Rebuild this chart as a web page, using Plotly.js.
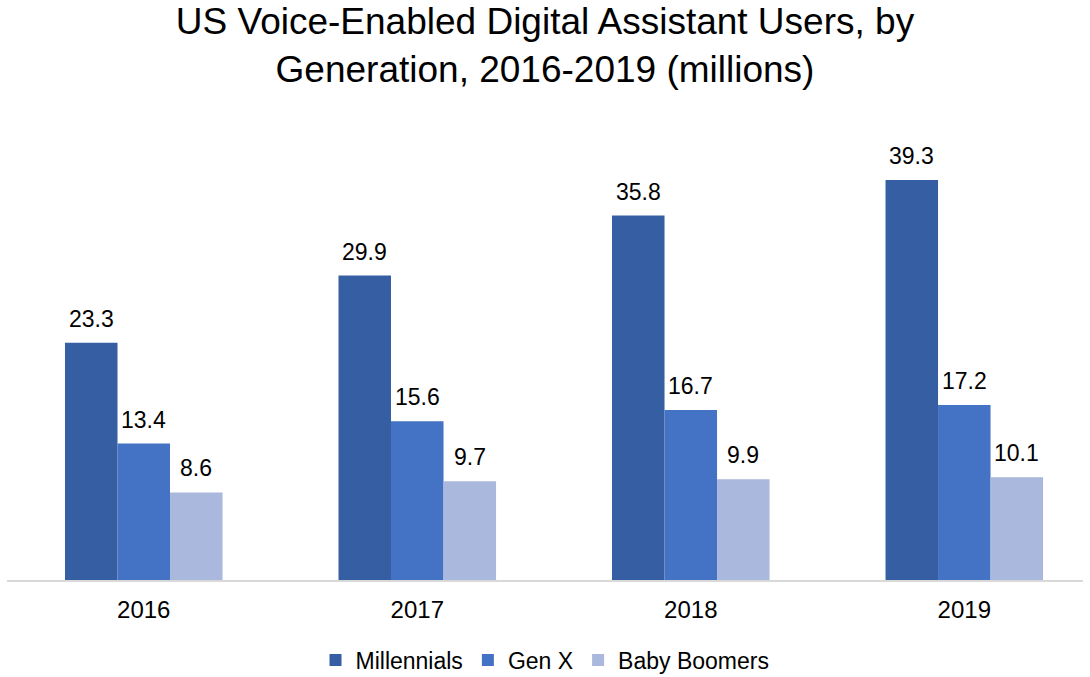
<!DOCTYPE html>
<html>
<head>
<meta charset="utf-8">
<script src="https://cdn.plot.ly/plotly-3.0.1.min.js"></script>
<style>html,body{margin:0;padding:0;background:#fff;}#chart{width:1090px;height:677px;}</style>
</head>
<body>
<div id="chart"></div>
<script>
const years = ["2016", "2017", "2018", "2019"];
const millennials = [23.3, 29.9, 35.8, 39.3];
const genX = [13.4, 15.6, 16.7, 17.2];
const babyBoomers = [8.6, 9.7, 9.9, 10.1];
const seriesNames = ["Millennials", "Gen X", "Baby Boomers"];
const colors = ["#355EA3", "#4472C4", "#A9B8DC"];

const font = "Liberation Sans, Arial, sans-serif";
const values = [millennials, genX, babyBoomers];
const traces = values.map((v, i) => ({
  type: "bar",
  name: seriesNames[i],
  x: years,
  y: v,
  marker: {color: colors[i], line: {width: 0}},
  hoverinfo: "none"
}));

// value labels at each bar top: x is the category index on the category axis,
// shifted to the bar's slot inside its group
const slotShift = [-52.5, 0, 52.5];
const annotations = [];
values.forEach((v, i) => {
  v.forEach((val, j) => {
    annotations.push({
      x: j, y: val, xref: "x", yref: "y",
      text: val.toFixed(1), showarrow: false,
      xanchor: "center", yanchor: "bottom",
      xshift: slotShift[i], yshift: 9,
      font: {family: font, size: 23, color: "#000"}
    });
  });
});

const layout = {
  width: 1090, height: 677,
  margin: {l: 7, r: 7, t: 130, b: 97, autoexpand: false},
  paper_bgcolor: "#fff", plot_bgcolor: "#fff",
  title: {
    text: "US Voice-Enabled Digital Assistant Users, by<br>Generation, 2016-2019 (millions)",
    font: {family: font, size: 37, color: "#000"},
    x: 0.5, xanchor: "center", y: 0.95, yanchor: "middle"
  },
  barmode: "group",
  bargap: 0.424,
  bargroupgap: 0,
  xaxis: {
    type: "category",
    range: [-0.5, 3.434],
    showline: true, linecolor: "#d9d9d9", linewidth: 1.5,
    showgrid: false, zeroline: false,
    ticks: "", ticklabelstandoff: 8,
    tickfont: {family: font, size: 24, color: "#000"}
  },
  yaxis: {
    range: [0, 44.2],
    showticklabels: false, showline: false, ticks: "",
    showgrid: false, zeroline: false
  },
  annotations: annotations,
  showlegend: true,
  legend: {
    orientation: "h", x: 0.5, xanchor: "center",
    yref: "container", y: 0.025, yanchor: "middle",
    font: {family: font, size: 23, color: "#000"},
    itemwidth: 30, traceorder: "normal"
  }
};

Plotly.newPlot("chart", traces, layout, {displayModeBar: false, staticPlot: true});
</script>
</body>
</html>
